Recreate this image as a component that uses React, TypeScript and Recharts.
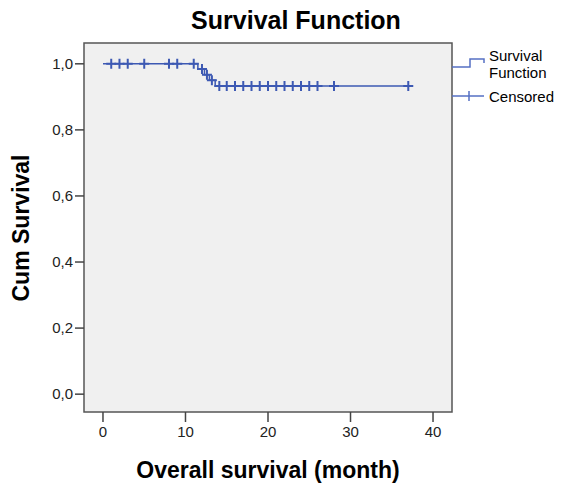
import { ComposedChart, Line, Scatter, XAxis, YAxis, ReferenceArea } from 'recharts';

document.body.style.margin = '0';

// survival curve steps (month, cum survival)
const curveTimes = [0, 11.5, 12.3, 12.9, 13.6, 37];
const curveSurv = [1, 0.984, 0.967, 0.95, 0.933, 0.933];

// censored cases
const censorTimes = [1, 2, 3, 5, 8, 9, 11, 12.0, 12.6, 13.2, 14.1, 15, 16, 17, 18, 19, 20, 21, 22, 23, 24, 25, 26, 28, 37];
const censorSurv = [1, 1, 1, 1, 1, 1, 1, 0.984, 0.967, 0.95, 0.933, 0.933, 0.933, 0.933, 0.933, 0.933, 0.933, 0.933, 0.933, 0.933, 0.933, 0.933, 0.933, 0.933, 0.933];

const xTicks = [0, 10, 20, 30, 40];
const yTicks = [0, 0.2, 0.4, 0.6, 0.8, 1.0];

const X_DOMAIN: [number, number] = [-2.3, 42.3];
const Y_DOMAIN: [number, number] = [-0.054, 1.063];

const BLUE = '#3D59B3';
const FONT = 'Arial, "Liberation Sans", sans-serif';

const curveData = curveTimes.map((t, i) => ({ t, s: curveSurv[i] }));
const censorData = censorTimes.map((t, i) => ({ t, s: censorSurv[i] }));

function Cross(props: any) {
  const { cx, cy } = props;
  if (cx == null || cy == null) return null;
  return (
    <path
      d={`M${cx - 5},${cy}H${cx + 5}M${cx},${cy - 5}V${cy + 5}`}
      stroke={BLUE}
      strokeWidth={2}
      fill="none"
    />
  );
}

const fmt = (v: number) => v.toFixed(1).replace('.', ',');

export default function App() {
  return (
    <div style={{ position: 'relative', width: 568, height: 489, background: '#fff', fontFamily: FONT }}>
      <ComposedChart width={568} height={489} margin={{ top: 43, right: 116, bottom: 0, left: 0 }}>
        <XAxis
          type="number"
          dataKey="t"
          domain={X_DOMAIN}
          ticks={xTicks}
          allowDataOverflow
          height={77}
          axisLine={false}
          tickSize={10}
          tickMargin={4}
          tickLine={{ stroke: '#444', strokeWidth: 1.5 }}
          tick={{ fontSize: 15, fill: '#222', fontFamily: FONT }}
        />
        <YAxis
          type="number"
          dataKey="s"
          domain={Y_DOMAIN}
          ticks={yTicks}
          allowDataOverflow
          width={84}
          axisLine={false}
          tickSize={9}
          tickMargin={2}
          tickFormatter={fmt}
          tickLine={{ stroke: '#444', strokeWidth: 1.5 }}
          tick={{ fontSize: 15, fill: '#222', fontFamily: FONT }}
        />
        <ReferenceArea
          x1={X_DOMAIN[0]}
          x2={X_DOMAIN[1]}
          y1={Y_DOMAIN[0]}
          y2={Y_DOMAIN[1]}
          fill="#F0F0F0"
          fillOpacity={1}
          stroke="#555"
          strokeWidth={1.5}
        />
        <Line
          data={curveData}
          dataKey="s"
          type="stepAfter"
          stroke={BLUE}
          strokeWidth={1.5}
          dot={false}
          isAnimationActive={false}
        />
        <Scatter data={censorData} dataKey="s" shape={<Cross />} isAnimationActive={false} />
      </ComposedChart>
      <svg
        width={568}
        height={489}
        style={{ position: 'absolute', left: 0, top: 0, pointerEvents: 'none' }}
        fontFamily={FONT}
      >
        <text x={296} y={29} textAnchor="middle" fontSize={25} fontWeight="bold" fill="#000">
          Survival Function
        </text>
        <text x={268} y={478} textAnchor="middle" fontSize={23} fontWeight="bold" fill="#000">
          Overall survival (month)
        </text>
        <text
          x={0}
          y={0}
          transform="translate(29,228) rotate(-90)"
          textAnchor="middle"
          fontSize={23}
          fontWeight="bold"
          fill="#000"
        >
          Cum Survival
        </text>
        {/* legend */}
        <path d="M452,67H470V59H484V63" stroke="#5670C4" strokeWidth={1.5} fill="none" />
        <text x={489} y={61} fontSize={15} fill="#000">Survival</text>
        <text x={489} y={78} fontSize={15} fill="#000">Function</text>
        <path d="M452,96H484M469,91V101" stroke="#5670C4" strokeWidth={1.5} fill="none" />
        <text x={489} y={102} fontSize={15} fill="#000">Censored</text>
      </svg>
    </div>
  );
}
